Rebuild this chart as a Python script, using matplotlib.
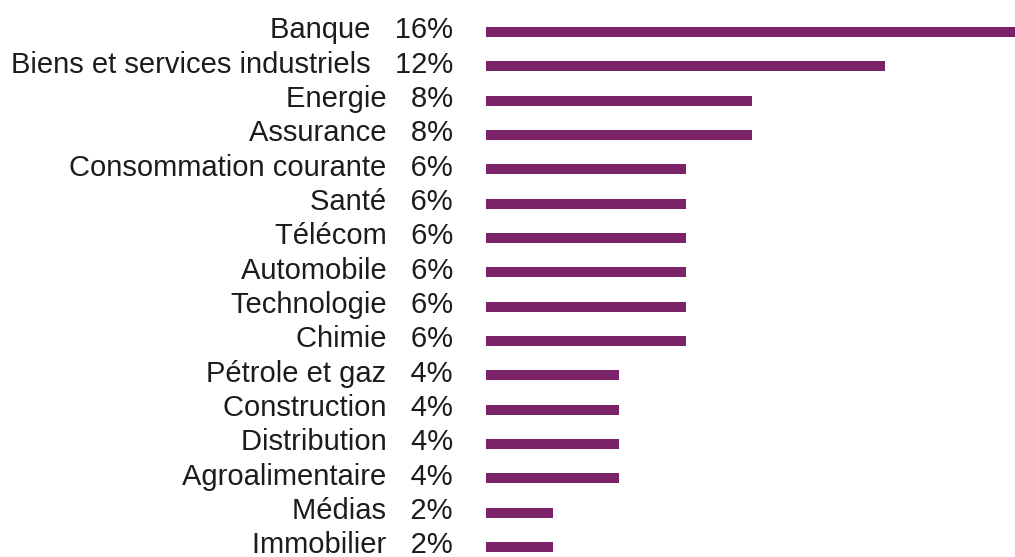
import matplotlib
matplotlib.use("Agg")
import matplotlib.pyplot as plt
from matplotlib.transforms import blended_transform_factory

# Data
sectors = ["Banque", "Biens et services industriels", "Energie", "Assurance",
           "Consommation courante", "Santé", "Télécom", "Automobile",
           "Technologie", "Chimie", "Pétrole et gaz", "Construction",
           "Distribution", "Agroalimentaire", "Médias", "Immobilier"]
weights = [16, 12, 8, 8, 6, 6, 6, 6, 6, 6, 4, 4, 4, 4, 2, 2]

color = "#7B2369"

fig = plt.figure(figsize=(10.15, 5.57), dpi=100)
ax = fig.add_axes([486 / 1015, 0, 532 / 1015, 1])

pos = list(range(len(sectors)))
ax.barh(pos, weights, height=0.29, color=color)
ax.set_xlim(0, 16)
ax.set_ylim(15.29, -0.932)
ax.axis("off")

# Labels: "name  pct" right aligned left of the bars
trans = blended_transform_factory(fig.transFigure, ax.transData)
for i, (name, w) in enumerate(zip(sectors, weights)):
    fig.text(453 / 1015, i + 0.18, f"{name}   {w}%", transform=trans,
             ha="right", va="baseline", fontsize=21,
             family="Liberation Sans", color="#1c1c1c")

fig.savefig("out.png", dpi=100)
